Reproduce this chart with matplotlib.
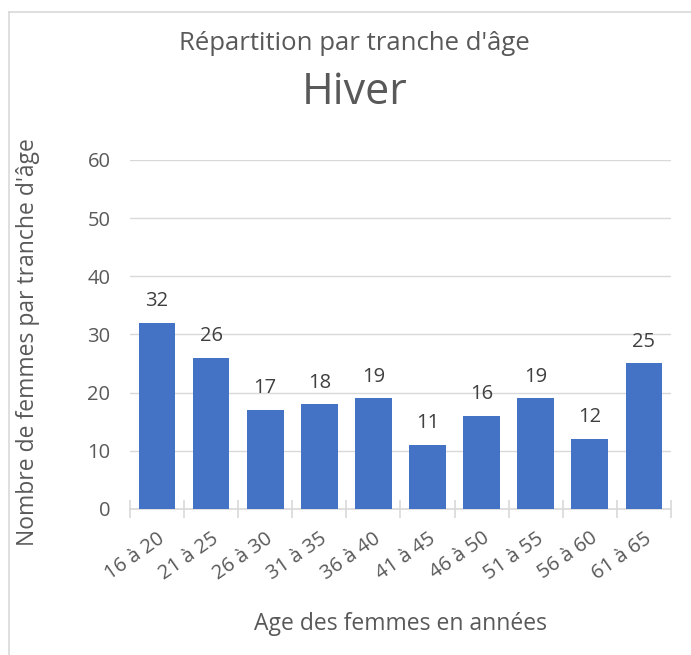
import matplotlib.pyplot as plt
import numpy as np
from matplotlib.lines import Line2D

# Age group distribution - Hiver

categories = ['16 à 20', '21 à 25', '26 à 30', '31 à 35', '36 à 40',
              '41 à 45', '46 à 50', '51 à 55', '56 à 60', '61 à 65']
values = [32, 26, 17, 18, 19, 11, 16, 19, 12, 25]
yticks = [0, 10, 20, 30, 40, 50, 60]

plt.rcParams['font.family'] = ['Open Sans', 'DejaVu Sans']
gray = '#595959'

fig = plt.figure(figsize=(6.91, 6.55), dpi=100)
ax = fig.add_axes([0.188, 0.223, 0.783, 0.533])

x = np.arange(len(categories))
bars = ax.bar(x, values, width=0.68, color='#4472c4', zorder=3)
for xi, v in zip(x, values):
    ax.text(xi, v + 2.0, str(v), ha='center', va='bottom', fontsize=14.5, color='#404040')

ax.set_xlim(-0.5, len(categories) - 0.5)
ax.set_ylim(0, 60)
ax.set_yticks(yticks)
ax.set_yticklabels([str(t) for t in yticks], fontsize=14.5, color=gray)
ax.yaxis.grid(True, color='#d9d9d9', linewidth=1, zorder=0)
ax.tick_params(axis='y', length=0, pad=14)

ax.set_xticks(x)
ax.set_xticklabels(categories, rotation=35, ha='right', rotation_mode='anchor',
                   fontsize=14.5, color=gray)
ax.tick_params(axis='x', which='major', length=0, pad=14)
ax.set_xticks(np.arange(-0.5, len(categories), 1), minor=True)
ax.tick_params(axis='x', which='minor', length=13, direction='inout',
               color='#d9d9d9', width=1.2)

for s in ['top', 'right', 'left']:
    ax.spines[s].set_visible(False)
ax.spines['bottom'].set_color('#d9d9d9')
ax.spines['bottom'].set_linewidth(1.2)

ax.set_ylabel("Nombre de femmes par tranche d'âge", fontsize=16.5, color=gray)
ax.yaxis.set_label_coords(-0.166, 0.478)
ax.set_xlabel('Age des femmes en années', fontsize=16.5, color=gray)
ax.xaxis.set_label_coords(0.5, -0.295)

fig.text(0.513, 0.934, "Répartition par tranche d'âge", ha='center', va='center',
         fontsize=18.5, color=gray)
fig.text(0.513, 0.858, 'Hiver', ha='center', va='center', fontsize=31, color=gray)

# chart frame (top and left edges)
fig.add_artist(Line2D([9 / 691, 1], [1 - 12 / 655, 1 - 12 / 655],
                      transform=fig.transFigure, color='#d9d9d9', linewidth=1.2))
fig.add_artist(Line2D([9 / 691, 9 / 691], [0, 1 - 12 / 655],
                      transform=fig.transFigure, color='#d9d9d9', linewidth=1.2))

fig.savefig('out.png', dpi=100)
plt.close()
